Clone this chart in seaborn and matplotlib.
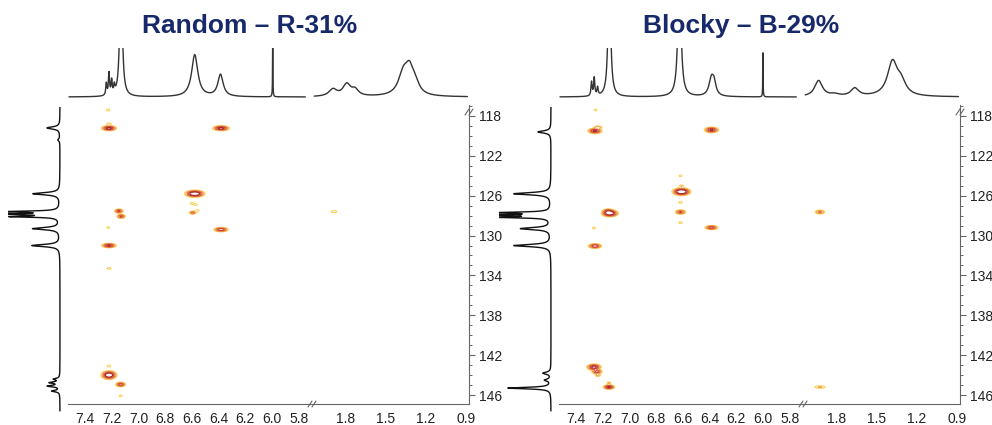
import numpy as np
import matplotlib
matplotlib.use('Agg')
import matplotlib.pyplot as plt
from matplotlib.lines import Line2D
from matplotlib.ticker import MultipleLocator, FormatStrFormatter
import seaborn as sns

sns.set_style('white')
plt.rcParams['font.family'] = ['Liberation Sans', 'DejaVu Sans']

# -----------------------------------------------
# 2D cross peaks: 1H ppm, 13C ppm, amplitude, width in H, width in C
# -----------------------------------------------
rand_h = [7.226, 7.22, 7.22, 6.381, 6.578, 6.598, 6.57, 6.593, 6.56, 7.146, 7.129,
          7.226, 6.381, 7.22, 7.22, 1.882, 7.22, 7.22, 7.133, 7.133]
rand_c = [117.4, 118.8, 119.23, 119.23, 125.8, 126.77, 126.9, 127.7, 127.5, 127.54, 128.07,
          129.2, 129.4, 131.0, 133.3, 127.6, 143.1, 144.0, 144.94, 146.08]
rand_amp = [0.18, 0.2, 1.0, 1.0, 1.4, 0.18, 0.17, 0.45, 0.18, 0.65, 0.6,
            0.17, 0.8, 0.85, 0.17, 0.18, 0.18, 1.3, 0.7, 0.18]
rand_wh = [0.012, 0.014, 0.027, 0.03, 0.034, 0.012, 0.01, 0.015, 0.012, 0.017, 0.017,
           0.01, 0.027, 0.027, 0.014, 0.02, 0.012, 0.027, 0.019, 0.01]
rand_wc = [0.09, 0.09, 0.12, 0.12, 0.16, 0.09, 0.08, 0.09, 0.09, 0.11, 0.11,
           0.08, 0.11, 0.11, 0.08, 0.09, 0.09, 0.2, 0.12, 0.08]

block_h = [7.253, 7.258, 7.235, 6.385, 6.617, 6.61, 6.61, 6.617, 6.617, 6.617, 7.146, 7.16,
           7.265, 6.385, 7.258, 1.92, 7.265, 7.243, 7.236, 7.153, 7.153, 1.92]
block_c = [117.4, 119.5, 119.15, 119.4, 124.0, 125.05, 125.6, 126.67, 127.64, 128.7, 127.77, 127.55,
           129.25, 129.2, 131.05, 127.64, 143.2, 143.65, 144.0, 144.8, 145.2, 145.2]
block_amp = [0.17, 0.9, 0.3, 0.9, 0.17, 0.2, 1.5, 0.18, 0.6, 0.18, 1.3, 0.5,
             0.18, 0.7, 0.8, 0.4, 1.0, 0.7, 0.25, 0.22, 0.9, 0.22]
block_wh = [0.01, 0.026, 0.02, 0.026, 0.01, 0.015, 0.031, 0.012, 0.021, 0.012, 0.029, 0.02,
            0.01, 0.025, 0.025, 0.022, 0.026, 0.02, 0.015, 0.012, 0.021, 0.03]
block_wc = [0.08, 0.13, 0.1, 0.14, 0.08, 0.1, 0.17, 0.09, 0.12, 0.09, 0.16, 0.12,
            0.08, 0.11, 0.12, 0.12, 0.15, 0.12, 0.1, 0.09, 0.11, 0.1]

# -----------------------------------------------
# 1H projection (top): position, height, half width
# -----------------------------------------------
rand_top_pos = [7.24, 7.22, 7.20, 7.18, 7.13, 6.578, 6.385, 5.994,
                1.89, 1.787, 1.725, 1.365, 1.32, 1.278]
rand_top_hgt = [12, 22, 14, 8, 150, 42, 22, 60,
                7, 12, 6, 22, 21, 10]
rand_top_hw = [0.005, 0.005, 0.005, 0.005, 0.01, 0.028, 0.024, 0.0015,
               0.035, 0.035, 0.03, 0.045, 0.035, 0.035]

block_top_pos = [7.283, 7.263, 7.238, 7.15, 6.625, 6.385, 6.365, 6.00,
                 1.93, 1.81, 1.66, 1.38, 1.315]
block_top_hgt = [14, 18, 8, 150, 150, 18, 10, 44,
                 16, 2, 8, 34, 12]
block_top_hw = [0.005, 0.005, 0.005, 0.01, 0.012, 0.022, 0.016, 0.0015,
                0.035, 0.04, 0.035, 0.045, 0.04]

# -----------------------------------------------
# 13C projection (left): position, depth, half width
# -----------------------------------------------
rand_side_pos = [119.2, 120.4, 125.8, 127.6, 127.85, 128.1, 129.3, 131.0, 144.4, 144.75, 145.1, 145.6]
rand_side_dep = [13, 2, 27, 52, 52, 46, 27, 28, 6, 10, 12, 8]
rand_side_hw = [0.13, 0.13, 0.13, 0.07, 0.07, 0.07, 0.13, 0.13, 0.09, 0.09, 0.09, 0.09]

block_side_pos = [119.6, 125.8, 127.7, 127.94, 128.17, 129.3, 131.0, 143.8, 144.5, 145.3]
block_side_dep = [13, 37, 52, 52, 48, 30, 37, 8, 6, 43]
block_side_hw = [0.13, 0.13, 0.07, 0.07, 0.07, 0.13, 0.13, 0.12, 0.12, 0.09]

titles = ['Random \u2013 R-31%', 'Blocky \u2013 B-29%']

levels = [0.10, 0.2, 0.35, 0.55, 0.8]
level_colors = ['#f9d262', '#f2a748', '#e4703f', '#cc4336', '#a82b2b']

W, H = 992, 425
H_LEFT = (7.527, 5.70)
H_RIGHT = (2.046, 0.878)
C_LIM = (146.9, 116.9)


def lorentz(grid, pos, hgt, hw):
    out = np.zeros_like(grid)
    for p, h, w in zip(pos, hgt, hw):
        out += h * w ** 2 / ((grid - p) ** 2 + w ** 2)
    return out


def box(x0, y0, x1, y1):
    return [x0 / W, 1 - y1 / H, (x1 - x0) / W, (y1 - y0) / H]


def slash(fig, px, py, color='#666'):
    for off in (-2, 2):
        fig.add_artist(Line2D([(px + off - 2) / W, (px + off + 2) / W],
                              [1 - (py + 3) / H, 1 - (py - 3) / H],
                              transform=fig.transFigure, color=color, lw=0.8))


fig = plt.figure(figsize=(9.92, 4.25), dpi=100)

panels = [
    (0, rand_h, rand_c, rand_amp, rand_wh, rand_wc,
     rand_top_pos, rand_top_hgt, rand_top_hw, rand_side_pos, rand_side_dep, rand_side_hw),
    (491, block_h, block_c, block_amp, block_wh, block_wc,
     block_top_pos, block_top_hgt, block_top_hw, block_side_pos, block_side_dep, block_side_hw),
]

for i, (dx, ph, pc, pa, pwh, pwc, tp, th, tw, sp, sd, sw) in enumerate(panels):
    # 2D spectrum, broken x axis
    ax_a = fig.add_axes(box(68 + dx, 105, 312 + dx, 404))
    ax_b = fig.add_axes(box(312 + dx, 105, 469 + dx, 404))
    for ax, (x_hi, x_lo), npts in [(ax_a, H_LEFT, 1100), (ax_b, H_RIGHT, 700)]:
        hg, cg = np.meshgrid(np.linspace(x_lo, x_hi, npts), np.linspace(116.9, 146.9, 1500))
        z = np.zeros_like(hg)
        for h0, c0, a, wh, wc in zip(ph, pc, pa, pwh, pwc):
            z += a * np.exp(-0.5 * ((hg - h0) / wh) ** 2 - 0.5 * ((cg - c0) / wc) ** 2)
        ax.contour(hg, cg, z, levels=levels, colors=level_colors, linewidths=0.8)
        ax.set_xlim(x_hi, x_lo)
        ax.set_ylim(*C_LIM)
        for s in ['top', 'left', 'right']:
            ax.spines[s].set_visible(False)
        ax.spines['bottom'].set_color('#666')
        ax.spines['bottom'].set_linewidth(0.8)
        ax.xaxis.set_major_formatter(FormatStrFormatter('%.1f'))
        ax.tick_params(axis='x', which='major', direction='out', length=4, width=0.8,
                       color='#666', labelsize=10, labelcolor='#222', pad=2)
        ax.tick_params(axis='x', which='minor', direction='out', length=2.5, width=0.7, color='#666')
        ax.set_xlabel('')
        ax.set_ylabel('')

    ax_a.xaxis.set_major_locator(MultipleLocator(0.2))
    ax_a.xaxis.set_minor_locator(MultipleLocator(0.04))
    ax_a.set_yticks([])
    ax_b.xaxis.set_major_locator(MultipleLocator(0.3))
    ax_b.xaxis.set_minor_locator(MultipleLocator(0.06))
    ax_b.spines['right'].set_visible(True)
    ax_b.spines['right'].set_color('#666')
    ax_b.spines['right'].set_linewidth(0.8)
    ax_b.yaxis.tick_right()
    ax_b.set_yticks(np.arange(118, 147, 4))
    ax_b.set_yticks(np.arange(117, 147, 1), minor=True)
    ax_b.tick_params(axis='y', which='major', direction='out', length=4, width=0.8,
                     color='#666', labelsize=10, labelcolor='#222', pad=3)
    ax_b.tick_params(axis='y', which='minor', direction='out', length=2.5, width=0.7, color='#666')

    slash(fig, 312 + dx, 404)
    slash(fig, 469 + dx, 112)

    # 1H projection on top
    for (x_hi, x_lo), (g_hi, g_lo), x0, x1 in [(H_LEFT, (7.52, 5.75), 68, 312),
                                               (H_RIGHT, (2.03, 0.89), 312, 469)]:
        tax = fig.add_axes(box(x0 + dx, 48, x1 + dx, 100))
        grid = np.arange(g_lo, g_hi, 0.0004)
        sns.lineplot(x=grid, y=lorentz(grid, tp, th, tw), ax=tax, color='#333',
                     linewidth=1.0, estimator=None)
        tax.set_xlim(x_hi, x_lo)
        tax.set_ylim(-3, 49)
        tax.axis('off')

    # 13C projection on the left
    vax = fig.add_axes(box(8 + dx, 107, 62 + dx, 412))
    cgrid = np.arange(117.1, 147.6, 0.004)
    sns.lineplot(x=lorentz(cgrid, sp, sd, sw), y=cgrid, ax=vax, orient='y', color='#111',
                 linewidth=1.0, estimator=None)
    vax.set_xlim(52, -2)
    vax.set_ylim(147.7, 117.1)
    vax.axis('off')

    fig.text((250 + dx) / W, 1 - 26 / H, titles[i], ha='center', va='center',
             fontsize=19, fontweight='bold', color='#17296a')

fig.savefig('out.png', dpi=100)
